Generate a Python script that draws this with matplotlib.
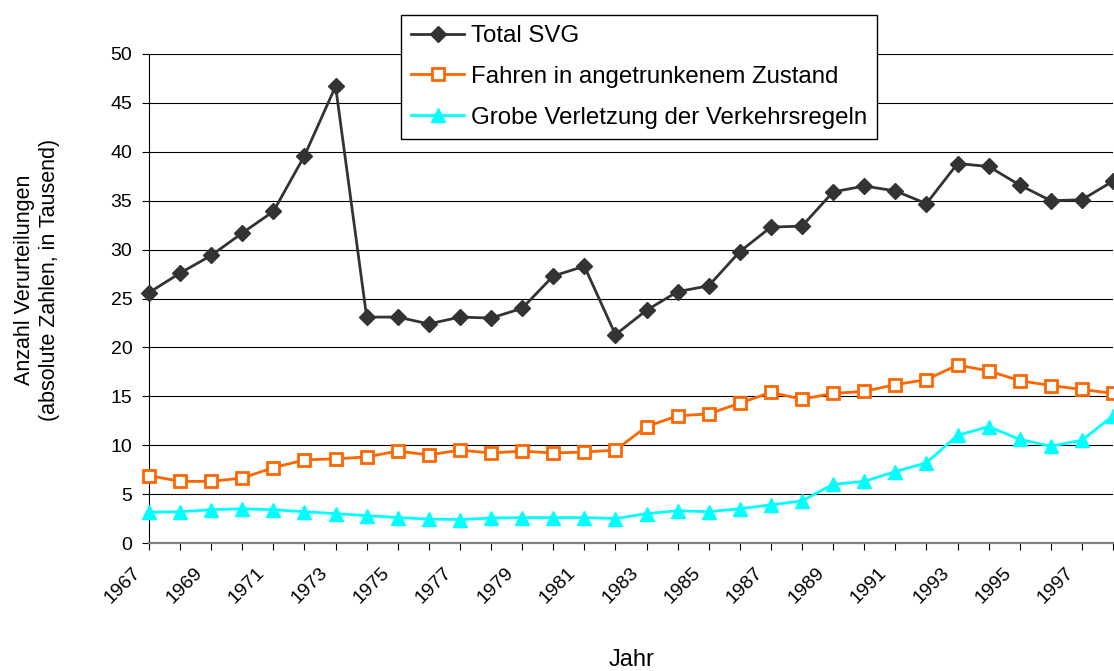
import matplotlib
matplotlib.use('Agg')
import matplotlib.pyplot as plt
import matplotlib.transforms as mtransforms
import numpy as np

plt.rcParams['font.family'] = ['Liberation Sans', 'DejaVu Sans']

# Jahre 1967 - 1998
jahre = list(range(1967, 1999))

# Verurteilungen in Tausend
total_svg = [25.6, 27.6, 29.4, 31.7, 33.9, 39.6, 46.7, 23.1, 23.1, 22.4,
             23.1, 23.0, 24.0, 27.3, 28.3, 21.3, 23.8, 25.7, 26.3, 29.8,
             32.3, 32.4, 35.9, 36.5, 36.0, 34.7, 38.8, 38.5, 36.6, 35.0,
             35.1, 37.0]
angetrunken = [6.9, 6.3, 6.3, 6.65, 7.7, 8.5, 8.6, 8.8, 9.4, 9.0,
               9.5, 9.2, 9.4, 9.2, 9.3, 9.5, 11.9, 13.0, 13.2, 14.3,
               15.4, 14.7, 15.3, 15.5, 16.2, 16.7, 18.2, 17.6, 16.6, 16.1,
               15.7, 15.3]
verkehrsregeln = [3.15, 3.2, 3.4, 3.5, 3.4, 3.2, 3.0, 2.8, 2.6, 2.45,
                  2.4, 2.55, 2.6, 2.6, 2.6, 2.5, 3.0, 3.3, 3.2, 3.5,
                  3.9, 4.3, 6.0, 6.3, 7.3, 8.2, 11.0, 11.9, 10.6, 9.9,
                  10.5, 13.0]

namen = ['Total SVG', 'Fahren in angetrunkenem Zustand',
         'Grobe Verletzung der Verkehrsregeln']

fig = plt.figure(figsize=(11.14, 6.71), dpi=100)
ax = fig.add_axes([149/1114, 1-543/671, (1113-149)/1114, (543-54)/671])

ax.plot(jahre, total_svg, color='#333333', lw=2, marker='D', ms=8,
        mfc='#333333', mec='#333333', clip_on=False, zorder=5, label=namen[0])
ax.plot(jahre, angetrunken, color='#FF6600', lw=2, marker='s', ms=9,
        mfc='white', mec='#FF6600', mew=2, clip_on=False, zorder=5, label=namen[1])
ax.plot(jahre, verkehrsregeln, color='#00FFFF', lw=2, marker='^', ms=10,
        mfc='#00FFFF', mec='#00FFFF', clip_on=False, zorder=5, label=namen[2])

ax.set_xlim(1967, 1998)
ax.set_ylim(0, 50)
ax.set_yticks(range(0, 51, 5))
ax.set_xticks(jahre)
ax.set_xticklabels([str(j) if (j - 1967) % 2 == 0 else '' for j in jahre],
                   rotation=45, ha='right', va='top', fontsize=14)
ax.tick_params(axis='y', labelsize=14, length=5, width=0.8, direction='out', pad=7)
ax.tick_params(axis='x', length=5, width=0.8, direction='out', pad=10)
versatz = mtransforms.ScaledTranslation(-5/100, 0, fig.dpi_scale_trans)
for lab in ax.get_xticklabels():
    lab.set_transform(lab.get_transform() + versatz)

ax.grid(axis='y', color='black', lw=0.8)
ax.set_axisbelow(True)
for s in ['top', 'right']:
    ax.spines[s].set_visible(False)
ax.spines['left'].set_color('black')
ax.spines['left'].set_linewidth(0.8)
ax.spines['bottom'].set_color('#808080')
ax.spines['bottom'].set_linewidth(1.6)

fig.text(25/1114, 1-280/671, 'Anzahl Verurteilungen', rotation=90,
         ha='center', va='center', fontsize=15.5)
fig.text(50/1114, 1-280/671, '(absolute Zahlen, in Tausend)', rotation=90,
         ha='center', va='center', fontsize=15.5)
fig.text(632/1114, 1-660/671, 'Jahr', ha='center', va='center', fontsize=17)

leg = ax.legend(loc='upper left', bbox_to_anchor=(401/1114, 1-15/671),
                bbox_transform=fig.transFigure, fontsize=17.3, frameon=True,
                fancybox=False, edgecolor='black', framealpha=1,
                handlelength=2.2, handletextpad=0.3, labelspacing=0.78,
                borderpad=0.42, borderaxespad=0)
leg.get_frame().set_linewidth(1)

fig.savefig('out.png', dpi=100)
